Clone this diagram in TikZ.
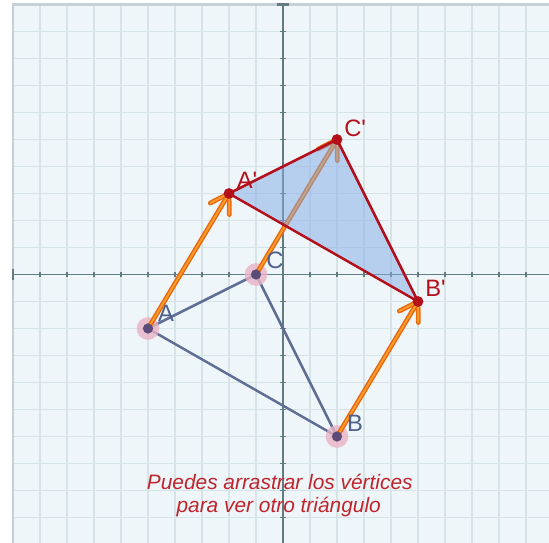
\documentclass[tikz,border=0pt]{standalone}
\usepackage{fontspec}
\setmainfont{Liberation Sans}
\newfontfamily\lblfont{Liberation Sans}
\usetikzlibrary{arrows.meta}
\definecolor{bgc}{RGB}{238,246,249}
\definecolor{gridc}{RGB}{214,228,232}
\definecolor{framec}{RGB}{196,210,216}
\definecolor{axisc}{RGB}{98,124,130}
\definecolor{trib}{RGB}{96,110,150}
\definecolor{dotb}{RGB}{92,74,120}
\definecolor{haloc}{RGB}{234,178,198}
\definecolor{trir}{RGB}{180,16,28}
\definecolor{fillr}{RGB}{130,170,231}
\definecolor{orgdark}{RGB}{232,106,16}
\definecolor{orglight}{RGB}{252,158,44}
\definecolor{txtr}{RGB}{192,36,44}
\definecolor{lblb}{RGB}{80,96,140}
\tikzset{
  gridline/.style={gridc, line width=0.85pt},
  axisline/.style={axisc, line width=0.9pt},
  blueedge/.style={trib, line width=1.3pt, line join=round},
  rededge/.style={trir, line width=1.3pt, line join=round},
  vecout/.style={orgdark, line width=2.5pt, line cap=round, line join=round},
  vecin/.style={orglight, line width=0.9pt, line cap=round, line join=round},
  bluelbl/.style={lblb, font=\lblfont\fontsize{12.5}{14}\selectfont, inner sep=0pt, anchor=center},
  redlbl/.style={trir, font=\lblfont\fontsize{12.5}{14}\selectfont, inner sep=0pt, anchor=center},
  note/.style={txtr, font=\itshape\fontsize{11}{13}\selectfont, inner sep=0pt, anchor=base}
}
\begin{document}
\begin{tikzpicture}[x=0.5cm,y=0.5cm]
\useasboundingbox (-10.4815,-9.9444) rectangle (9.8519,10.1667);
\fill[white] (-10.4815,-9.9444) rectangle (9.8519,10.1667);
\clip (-10.4815,-9.9444) rectangle (9.8519,10.1667);
\fill[bgc] (-10,-9.9444) rectangle (9.8519,10);
% grid
\foreach \i in {-9,...,9} {\draw[gridline] (\i,-9.9444) -- (\i,10);}
\foreach \j in {-9,...,9} {\draw[gridline] (-10,\j) -- (9.8519,\j);}
\draw[framec, line width=1.4pt] (-10,-9.9444) -- (-10,10) -- (9.8519,10);
% axes
\draw[axisline] (-10,0) -- (9.8519,0);
\draw[axisline] (0,10) -- (0,-9.9444);
\foreach \i in {-9,...,-1,1,2,...,9} {\draw[axisline] (\i,-0.11) -- (\i,0.11);}
\foreach \j in {-9,...,-1,1,2,...,9} {\draw[axisline] (-0.11,\j) -- (0.11,\j);}
\draw[axisc, line width=1.2pt] (-10,-0.22) -- (-10,0.22);
\draw[axisc, line width=1.2pt] (-0.22,10) -- (0.22,10);
% points
\coordinate (A) at (-5,-2);
\coordinate (B) at (2,-6);
\coordinate (C) at (-1,0);
\coordinate (Ap) at (-2,3);
\coordinate (Bp) at (5,-1);
\coordinate (Cp) at (2,5);
% original triangle
\draw[blueedge] (A) -- (B) -- (C) -- cycle;
\foreach \p in {A,B,C} {\fill[haloc, opacity=0.8] (\p) circle (0.42);}
% vectors (translation by (3,5))
\foreach \s/\t in {A/Ap,B/Bp,C/Cp} {
  \draw[vecout] (\s) -- (\t);
  \draw[vecout] (\t) ++(207:0.78) -- (\t) -- ++(271:0.78);
  \draw[vecin] (\s) -- (\t);
  \draw[vecin] (\t) ++(207:0.78) -- (\t) -- ++(271:0.78);
}
% image triangle
\fill[fillr, fill opacity=0.5] (Ap) -- (Bp) -- (Cp) -- cycle;
\draw[rededge] (Ap) -- (Bp) -- (Cp) -- cycle;
\foreach \p in {A,B,C} {\fill[dotb] (\p) circle (0.19);}
\foreach \p in {Ap,Bp,Cp} {\fill[trir] (\p) circle (0.2);}
% labels
\node[bluelbl] (lA) at (-4.33,-1.44) {A};
\node[bluelbl] (lB) at (2.67,-5.5) {B};
\node[bluelbl] (lC) at (-0.30,0.52) {C};
\node[redlbl] (lAp) at (-1.33,3.5) {A'};
\node[redlbl] (lBp) at (5.65,-0.5) {B'};
\node[redlbl] (lCp) at (2.67,5.41) {C'};
\node[note] (t1) at (-0.12,-7.98) {Puedes arrastrar los vértices};
\node[note] (t2) at (-0.16,-8.83) {para ver otro triángulo};
\end{tikzpicture}
\end{document}
